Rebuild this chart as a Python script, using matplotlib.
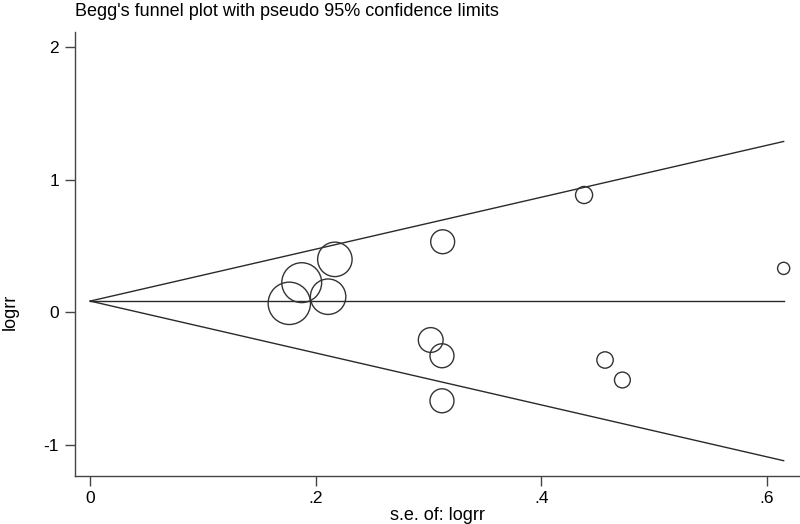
import numpy as np
import matplotlib
matplotlib.use("Agg")
import matplotlib.pyplot as plt

plt.rcParams['font.family'] = ['Liberation Sans', 'DejaVu Sans']

# study standard errors and log relative risks
se_logrr = [0.1766, 0.1876, 0.211, 0.217, 0.302, 0.312, 0.3126, 0.312,
            0.438, 0.4566, 0.472, 0.615]
logrr = [0.068, 0.224, 0.118, 0.400, -0.209, -0.328, 0.533, -0.668,
         0.886, -0.360, -0.511, 0.332]
pooled = 0.085

x_ticks = [0, 0.2, 0.4, 0.6]
x_tick_labels = ["0", ".2", ".4", ".6"]
y_ticks = [-1, 0, 1, 2]
y_tick_labels = ["-1", "0", "1", "2"]

se = np.array(se_logrr)
rr = np.array(logrr)
weights = 1.0 / se**2

fig = plt.figure(figsize=(8, 5.24), dpi=100)
ax = fig.add_axes([74.5/800, 1 - 476/524, (800 - 74.5)/800, (476 - 32)/524])

# pseudo 95% confidence limits
se_line = np.array([0, se.max()])
ax.plot(se_line, pooled + 1.96*se_line, color='#2a2a2a', lw=1.0)
ax.plot(se_line, pooled - 1.96*se_line, color='#2a2a2a', lw=1.0)
ax.plot(se_line, [pooled, pooled], color='#2a2a2a', lw=1.0)

ax.scatter(se, rr, s=29*weights, facecolors='none', edgecolors='#333333',
           linewidths=1.0, zorder=3)

ax.set_xlim(-0.0139, 0.6295)
ax.set_ylim(-1.236, 2.117)
ax.set_xticks(x_ticks)
ax.set_xticklabels(x_tick_labels)
ax.set_yticks(y_ticks)
ax.set_yticklabels(y_tick_labels)
ax.spines['top'].set_visible(False)
ax.spines['right'].set_visible(False)
for s in ['left', 'bottom']:
    ax.spines[s].set_color('#444444')
    ax.spines[s].set_linewidth(1.0)
ax.tick_params(direction='out', length=7, width=1.0, color='#444444',
               labelsize=12.5, pad=4)

fig.text(75/800, 1 - 3/524, "Begg's funnel plot with pseudo 95% confidence limits",
         ha='left', va='top', fontsize=13)
fig.text(437/800, 1 - 515/524, "s.e. of: logrr", ha='center', va='center', fontsize=13)
fig.text(10/800, 1 - 312/524, "logrr", ha='center', va='center', rotation=90,
         fontsize=13)

fig.savefig("out.png", dpi=100)
